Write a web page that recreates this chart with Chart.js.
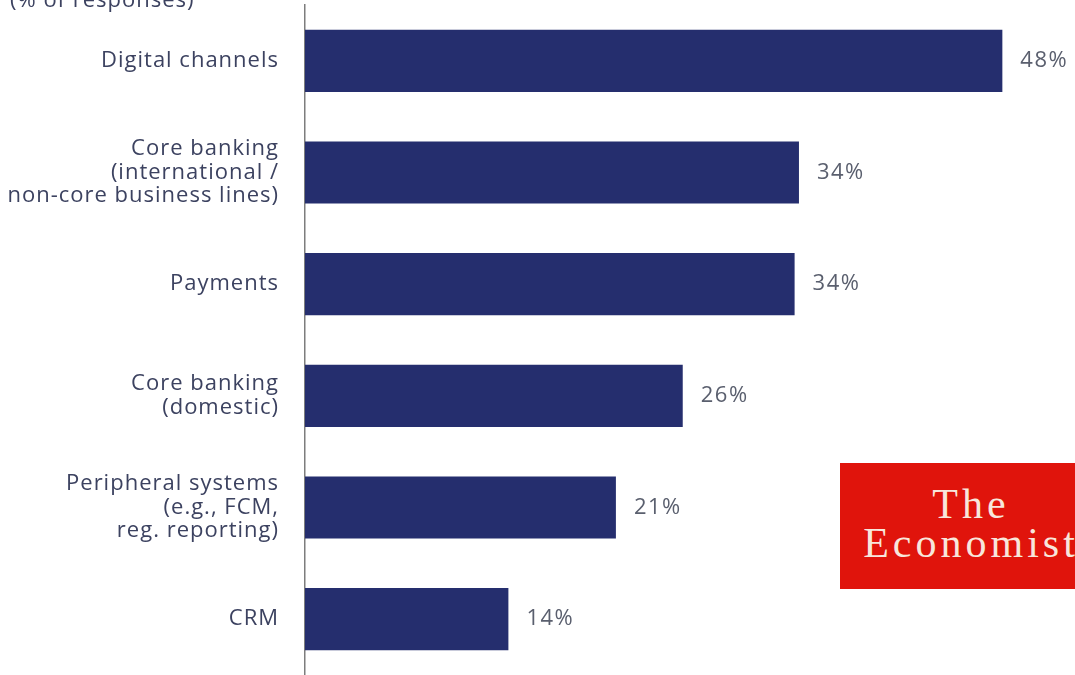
<!DOCTYPE html>
<html>
<head>
<meta charset="utf-8">
<script src="https://cdn.jsdelivr.net/npm/chart.js@4/dist/chart.umd.min.js"></script>
<style>
  body { margin: 0; background: #fff; }
  #wrap { position: relative; width: 1075px; height: 675px; overflow: hidden; }
  #subtitle {
    position: absolute; left: 10px; top: -17px; letter-spacing: 1px;
    font-family: "Open Sans", sans-serif; font-size: 22px; color: #3c4260;
  }
  #logo {
    position: absolute; left: 840px; top: 463px; width: 262px; height: 126px;
    background: #e0140c; color: #f8e6dc;
    font-family: "Liberation Serif", "DejaVu Serif", serif; font-size: 42px;
    letter-spacing: 4px; line-height: 39px; text-align: center;
    padding-top: 22px; box-sizing: border-box;
  }
</style>
</head>
<body>
<div id="wrap">
  <canvas id="barChart" width="1075" height="675"></canvas>
  <div id="subtitle">(% of responses)</div>
  <div id="logo">The<br>Economist</div>
</div>
<script>
const categories = [
  ['Digital channels'],
  ['Core banking', '(international /', 'non-core business lines)'],
  ['Payments'],
  ['Core banking', '(domestic)'],
  ['Peripheral systems', '(e.g., FCM,', 'reg. reporting)'],
  ['CRM'],
];
const values = [48, 34, 33.7, 26, 21.4, 14];
const valueLabels = ['48%', '34%', '34%', '26%', '21%', '14%'];

// spread the letters a bit, like the original artwork
const spacingPlugin = {
  id: 'letterSpacing',
  beforeDraw(chart) {
    chart.ctx.letterSpacing = '1px';
  }
};

const valueLabelPlugin = {
  id: 'valueLabels',
  afterDatasetsDraw(chart) {
    const ctx = chart.ctx;
    const meta = chart.getDatasetMeta(0);
    ctx.save();
    ctx.letterSpacing = '1.5px';
    ctx.font = '22px "Open Sans", sans-serif';
    ctx.fillStyle = '#5a5f6e';
    ctx.textBaseline = 'middle';
    ctx.textAlign = 'left';
    meta.data.forEach((bar, i) => {
      ctx.fillText(valueLabels[i], bar.x + 18, bar.y);
    });
    ctx.restore();
  }
};

const barChartCtx = document.getElementById('barChart').getContext('2d');
const barChart = new Chart(barChartCtx, {
  type: 'bar',
  data: {
    labels: categories,
    datasets: [{
      data: values,
      backgroundColor: '#252e6e',
      categoryPercentage: 0.556,
      barPercentage: 1.0,
    }]
  },
  options: {
    indexAxis: 'y',
    responsive: false,
    animation: false,
    layout: { padding: { top: 5, bottom: 0, right: 0 } },
    plugins: {
      legend: { display: false },
      tooltip: { enabled: false },
    },
    scales: {
      x: {
        display: false,
        min: 0,
        max: 53,
      },
      y: {
        afterFit(axis) {
          axis.width = 305;
          axis.paddingTop = 0;
          axis.paddingBottom = 0;
        },
        grid: { display: false, drawTicks: false },
        border: { display: true, color: '#7d7d7d', width: 1.5 },
        ticks: {
          padding: 26,
          color: '#3c4260',
          font: { family: '"Open Sans", sans-serif', size: 22, lineHeight: 1.07 },
        }
      }
    }
  },
  plugins: [spacingPlugin, valueLabelPlugin]
});
</script>
</body>
</html>
